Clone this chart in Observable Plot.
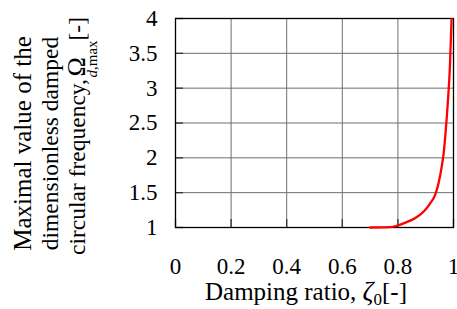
<!DOCTYPE html>
<html><head><meta charset="utf-8">
<script src="https://cdn.jsdelivr.net/npm/d3@7"></script>
<script src="https://cdn.jsdelivr.net/npm/@observablehq/plot@0.6"></script>
<style>
body{margin:0;background:#fff}
svg, svg text, svg tspan {font-family: "Liberation Serif", "DejaVu Serif", serif !important;}
</style>
</head><body><div id="chart"></div>
<script>
const zeta = [0.70, 0.773, 0.80, 0.827, 0.86, 0.893, 0.915, 0.935, 0.947, 0.957, 0.965, 0.971, 0.980, 0.987, 0.993];
const omegaMax = [1.00, 1.005, 1.03, 1.07, 1.13, 1.23, 1.34, 1.48, 1.65, 1.86, 2.08, 2.34, 2.82, 3.30, 3.99];
const xTicks = [0, 0.2, 0.4, 0.6, 0.8, 1];
const yTicks = [1, 1.5, 2, 2.5, 3, 3.5, 4];

const data = zeta.map((z, i) => ({z, w: omegaMax[i]}));
const gridColor = "#6e6e6e";
const serif = "Liberation Serif, DejaVu Serif, serif";

const plot = Plot.plot({
  width: 457, height: 309,
  marginLeft: 175, marginRight: 4, marginTop: 18, marginBottom: 82,
  style: {fontFamily: serif, background: "#fff", color: "#000"},
  x: {domain: [0, 1]},
  y: {domain: [1, 4]},
  marks: [
    Plot.gridX(xTicks, {stroke: gridColor, strokeOpacity: 1}),
    Plot.gridY(yTicks, {stroke: gridColor, strokeOpacity: 1}),
    Plot.axisX(xTicks, {tickSize: -8, tickFormat: () => "", stroke: "#333", strokeWidth: 1.3, label: null}),
    Plot.axisY(yTicks, {tickSize: -8, tickFormat: () => "", stroke: "#333", strokeWidth: 1.3, label: null}),
    Plot.axisX(xTicks, {tickSize: 0, tickPadding: 30, fontSize: 23, fill: "#000", tickFormat: d => String(d), label: null}),
    Plot.axisY(yTicks, {tickSize: 0, tickPadding: 18, fontSize: 23, fill: "#000", tickFormat: d => String(d), label: null}),
    Plot.frame({stroke: "#000", strokeWidth: 1.3}),
    Plot.line(data, {x: "z", y: "w", stroke: "#ff0000", strokeWidth: 2.3, curve: "monotone-x"})
  ]
});
document.getElementById("chart").appendChild(plot);

const svg = d3.select(plot);
// y title (rotated group: local x runs upward on screen)
const g = svg.append("g").attr("transform", "translate(0,143.5) rotate(-90)").attr("fill", "#000");
g.append("text").attr("x", 0).attr("y", 31).attr("font-size", 25).attr("text-anchor", "middle")
  .text("Maximal value of the");
g.append("text").attr("x", 0).attr("y", 58).attr("font-size", 23.5).attr("text-anchor", "middle")
  .text("dimensionless damped");
const t3 = g.append("text").attr("y", 85).attr("font-size", 23.5).attr("text-anchor", "start");
t3.append("tspan").attr("x", -111.5).text("circular frequency,");
t3.append("tspan").attr("x", 67).attr("font-size", 26).text("Ω");
t3.append("tspan").attr("x", 66).attr("dy", 12).attr("font-size", 15).attr("font-style", "italic").text("d");
t3.append("tspan").attr("font-size", 15).text(",max");
t3.append("tspan").attr("x", 103).attr("dy", -12).text("[-]");

// x title
const tx = svg.append("text").attr("x", 306).attr("y", 300)
  .attr("font-size", 25).attr("text-anchor", "middle").attr("fill", "#000");
tx.append("tspan").text("Damping ratio, ");
tx.append("tspan").attr("font-size", 27).attr("font-style", "italic").text("ζ");
tx.append("tspan").attr("font-size", 17).attr("dy", 5).text("0");
tx.append("tspan").attr("dy", -5).text("[-]");
</script>
</body></html>
